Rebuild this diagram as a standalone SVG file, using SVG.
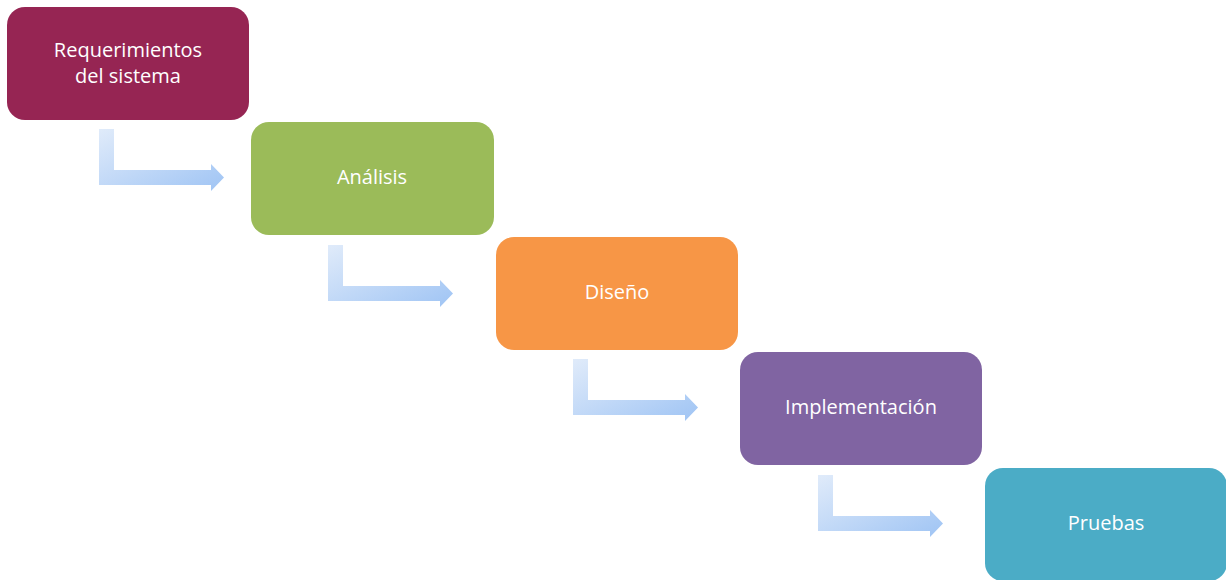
<svg xmlns="http://www.w3.org/2000/svg" width="1226" height="580" viewBox="0 0 1226 580">
<defs>
<linearGradient id="ag" x1="0" y1="0" x2="1" y2="1">
<stop offset="0" stop-color="#e0ebfa"/>
<stop offset="1" stop-color="#9fc4f4"/>
</linearGradient>
<path id="arr" d="M0,0 H15 V41 H112 V35 L125,48.5 L112,62 V56 H0 Z"/>
</defs>
<style>
.box{stroke:none}
.t{font-family:"Open Sans","Liberation Sans",sans-serif;font-size:20px;fill:#ffffff;text-anchor:middle}
.a{fill:url(#ag)}
</style>
<rect width="1226" height="580" fill="#ffffff"/>
<g id="connectors">
<use href="#arr" class="a" x="99" y="129"/>
<use href="#arr" class="a" x="328" y="245"/>
<use href="#arr" class="a" x="573" y="359"/>
<use href="#arr" class="a" x="818" y="475"/>
</g>
<g id="n1">
<rect class="box" x="7" y="7" width="242" height="113" rx="18" fill="#962553"/>
<text class="t" x="128" y="57">Requerimientos</text>
<text class="t" x="128" y="83">del sistema</text>
</g>
<g id="n2">
<rect class="box" x="251" y="122" width="243" height="113" rx="18" fill="#9bbb59"/>
<text class="t" x="372" y="184">Análisis</text>
</g>
<g id="n3">
<rect class="box" x="496" y="237" width="242" height="113" rx="18" fill="#f79646"/>
<text class="t" x="617" y="299">Diseño</text>
</g>
<g id="n4">
<rect class="box" x="740" y="352" width="242" height="113" rx="18" fill="#8064a2"/>
<text class="t" x="861" y="414">Implementación</text>
</g>
<g id="n5">
<rect class="box" x="985" y="468" width="242" height="113" rx="18" fill="#4bacc6"/>
<text class="t" x="1106" y="530">Pruebas</text>
</g>
</svg>
